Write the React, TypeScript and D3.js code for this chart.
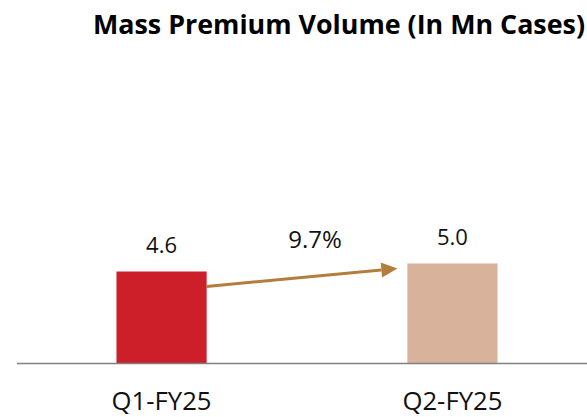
import React from "react";
import * as d3 from "d3";

const TITLE = "Mass Premium Volume (In Mn Cases)";
const categories = ["Q1-FY25", "Q2-FY25"];
const values = [4.6, 5.0];
const valueLabels = ["4.6", "5.0"];
const barColors = ["#cc1f2a", "#d9b29b"];
const growthLabel = "9.7%";

const W = 587;
const H = 417;
const FONT = "'Open Sans', 'Noto Sans', sans-serif";

export default function App() {
  const x = d3
    .scaleBand<string>()
    .domain(categories)
    .range([17, 597])
    .paddingInner(0.69)
    .paddingOuter(0.342);
  const y = d3.scaleLinear().domain([0, 10]).range([363.5, 163.5]);
  const bw = x.bandwidth();

  const x0 = (x(categories[0]) as number) + bw;
  const y0 = y(values[0]) + 15;
  const x1 = (x(categories[1]) as number) - 10;
  const y1 = y(values[1]) + 5;
  const ang = Math.atan2(y1 - y0, x1 - x0);
  const headLen = 16;
  const headHalf = 7.5;
  const bx = x1 - headLen * Math.cos(ang);
  const by = y1 - headLen * Math.sin(ang);
  const px = -Math.sin(ang);
  const py = Math.cos(ang);
  const head = [
    [x1, y1],
    [bx + px * headHalf, by + py * headHalf],
    [bx - px * headHalf, by - py * headHalf],
  ];
  const arrowColor = "#b47d3d";

  return (
    <svg
      width={W}
      height={H}
      style={{ position: "absolute", left: 0, top: 0, background: "#fff" }}
    >
      <text
        x={93}
        y={34}
        fontFamily={FONT}
        fontWeight="bold"
        fontSize={27}
        fill="#000"
        textLength={492}
        lengthAdjust="spacingAndGlyphs"
      >
        {TITLE}
      </text>
      {categories.map((c, i) => (
        <rect
          key={c}
          x={x(c)}
          y={y(values[i])}
          width={bw}
          height={y(0) - y(values[i])}
          fill={barColors[i]}
        />
      ))}
      <line x1={17} x2={W} y1={y(0)} y2={y(0)} stroke="#808080" strokeWidth={1.6} />
      {categories.map((c, i) => (
        <text
          key={"v" + c}
          x={(x(c) as number) + bw / 2}
          y={y(values[i]) - 19}
          textAnchor="middle"
          fontFamily={FONT}
          fontSize={22}
          fill="#111"
        >
          {valueLabels[i]}
        </text>
      ))}
      {categories.map((c, i) => (
        <text
          key={"c" + c}
          x={(x(c) as number) + bw / 2}
          y={410}
          textAnchor="middle"
          fontFamily={FONT}
          fontSize={26}
          fill="#111"
          textLength={100}
          lengthAdjust="spacingAndGlyphs"
        >
          {c}
        </text>
      ))}
      <line x1={x0} y1={y0} x2={bx} y2={by} stroke={arrowColor} strokeWidth={3} />
      <polygon points={head.map((p) => p.join(",")).join(" ")} fill={arrowColor} />
      <text
        x={315}
        y={248}
        textAnchor="middle"
        fontFamily={FONT}
        fontSize={24}
        fill="#111"
      >
        {growthLabel}
      </text>
    </svg>
  );
}
